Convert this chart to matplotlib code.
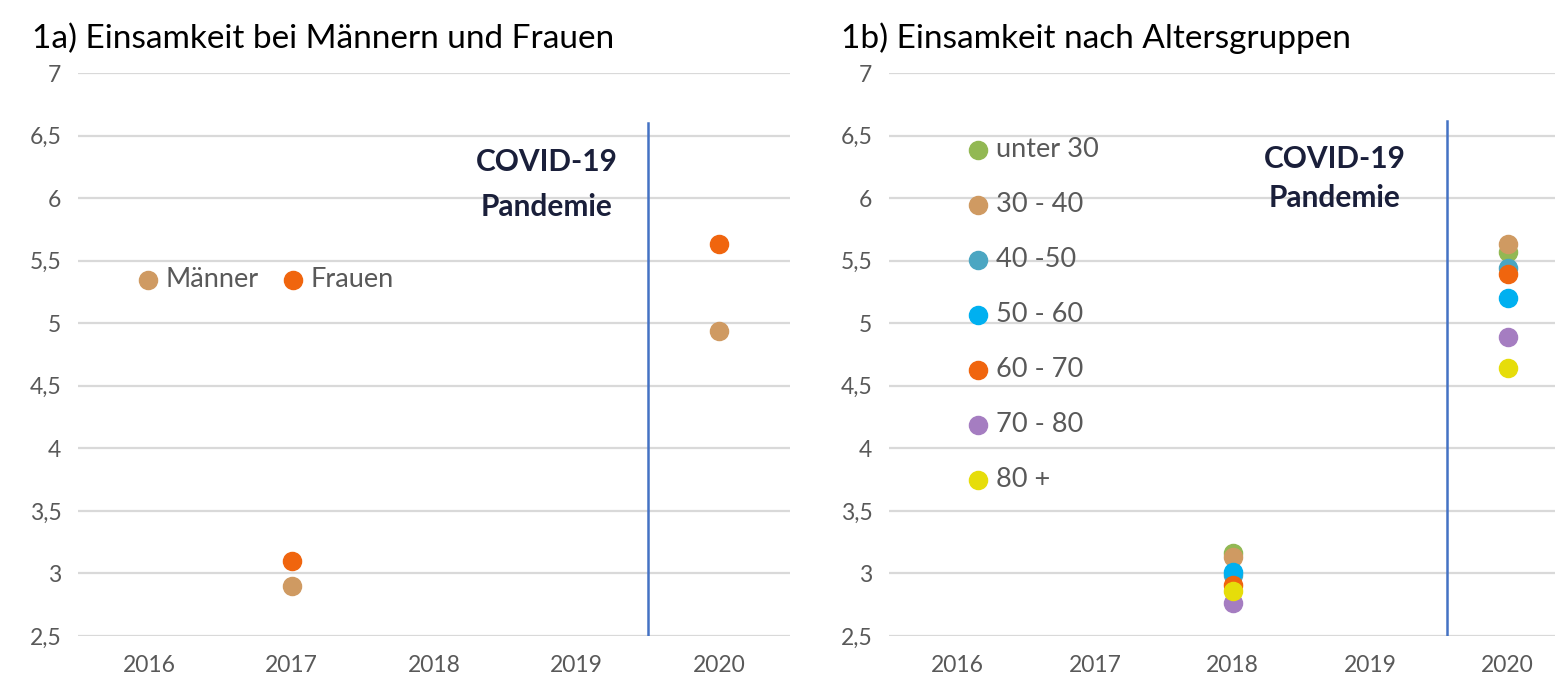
import numpy as np
import matplotlib
matplotlib.use("Agg")
import matplotlib.pyplot as plt

plt.rcParams['font.family'] = ['Lato', 'DejaVu Sans']

years = ["2016", "2017", "2018", "2019", "2020"]

# 1a) Maenner / Frauen
gender_labels = ["Männer", "Frauen"]
gender_colors = ["#CF9A62", "#F0650E"]
gender_years = [[1, 4], [1, 4]]
maenner = [2.9, 4.94]
frauen = [3.1, 5.63]

# 1b) Altersgruppen (2018, 2020)
age_labels = ["unter 30", "30 - 40", "40 -50", "50 - 60", "60 - 70", "70 - 80", "80 +"]
age_colors = ["#92B853", "#CF9A62", "#4BA6C2", "#00B0F0", "#F0650E", "#A57DC1", "#E6DD0A"]
age_2018 = [3.16, 3.13, 2.99, 3.01, 2.91, 2.76, 2.86]
age_2020 = [5.57, 5.63, 5.44, 5.20, 5.39, 4.89, 4.64]

grid_c = "#D9D9D9"
tick_c = "#595959"
line_c = "#4472C4"

fig = plt.figure(figsize=(15.55, 6.86), dpi=100)
ax1 = fig.add_axes([78 / 1555, 50 / 686, 712 / 1555, 563 / 686])
ax2 = fig.add_axes([889 / 1555, 50 / 686, 687.5 / 1555, 563 / 686])


def style(ax):
    ax.set_xlim(-0.5, 4.5)
    ax.set_ylim(2.5, 7)
    ax.set_yticks(np.arange(2.5, 7.01, 0.5))
    ax.set_yticklabels([("%g" % v).replace(".", ",") for v in np.arange(2.5, 7.01, 0.5)])
    ax.set_xticks(range(5))
    ax.set_xticklabels(years)
    ax.yaxis.grid(True, color=grid_c, linewidth=1.6)
    ax.set_axisbelow(True)
    for s in ax.spines.values():
        s.set_visible(False)
    ax.tick_params(length=0, labelsize=16.5, colors=tick_c, pad=12)
    ax.tick_params(axis='x', pad=14)


style(ax1)
style(ax2)

# panel a
ax1.scatter(gender_years[0], maenner, s=170, color=gender_colors[0], label=gender_labels[0], zorder=3)
ax1.scatter(gender_years[1], frauen, s=170, color=gender_colors[1], label=gender_labels[1], zorder=3)
ax1.plot([3.5, 3.5], [2.5, 6.6], color=line_c, linewidth=1.8, zorder=2)
ax1.text(2.79, 6.11, "COVID-19\nPandemie", ha="center", va="center", fontsize=21.5,
         fontweight="bold", color="#1A1F3A", linespacing=1.72)
ax1.legend(loc="center left", bbox_to_anchor=(0.0758, 0.633), ncol=2, frameon=False,
           fontsize=19.5, labelcolor=tick_c, handletextpad=0.05, columnspacing=0.65,
           borderpad=0, borderaxespad=0, handlelength=1.2, scatterpoints=1)
ax1.set_title("1a) Einsamkeit bei Männern und Frauen", loc="left", x=-0.065, y=1.03,
              fontsize=24, color="black")

# panel b
for i in range(len(age_labels)):
    ax2.scatter([2, 4], [age_2018[i], age_2020[i]], s=170, color=age_colors[i],
                label=age_labels[i], zorder=3)
ax2.plot([3.56, 3.56], [2.5, 6.62], color=line_c, linewidth=1.8, zorder=2)
ax2.text(2.74, 6.155, "COVID-19\nPandemie", ha="center", va="center", fontsize=21.5,
         fontweight="bold", color="#1A1F3A", linespacing=1.5)
ax2.legend(loc="upper left", bbox_to_anchor=(0.106, 0.887), ncol=1, frameon=False,
           fontsize=19.5, labelcolor=tick_c, handletextpad=0.05, labelspacing=1.11,
           borderpad=0, borderaxespad=0, handlelength=1.2, scatterpoints=1)
ax2.set_title("1b) Einsamkeit nach Altersgruppen", loc="left", x=-0.07, y=1.03,
              fontsize=24, color="black")

fig.savefig("out.png", dpi=100)
